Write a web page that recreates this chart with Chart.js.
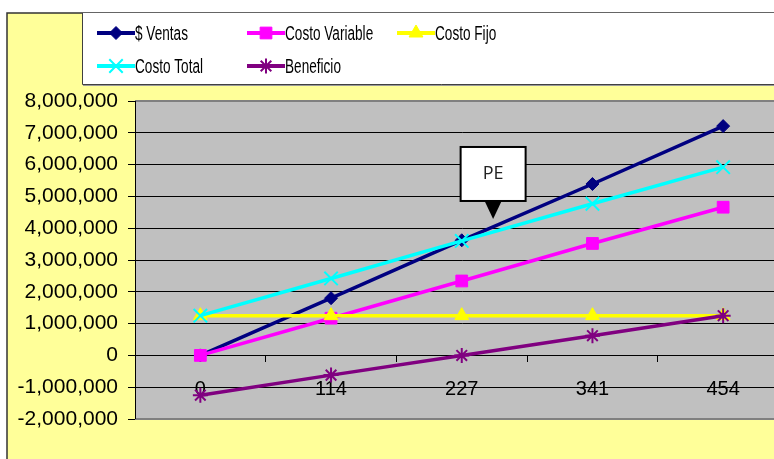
<!DOCTYPE html>
<html>
<head>
<meta charset="utf-8">
<script src="https://cdn.jsdelivr.net/npm/chart.js@4/dist/chart.umd.min.js"></script>
<style>
  html, body { margin: 0; padding: 0; overflow: hidden; background: #fff; }
  #wrap { position: relative; width: 800px; height: 459px; }
</style>
</head>
<body>
<div id="wrap"><canvas id="c" width="800" height="459"></canvas></div>
<script>
// Unidades vendidas y resultados del análisis de punto de equilibrio
const unidades      = ['0', '114', '227', '341', '454'];
const ventas        = [0, 1800000, 3620000, 5390000, 7210000];
const costoVariable = [0, 1170000, 2340000, 3520000, 4660000];
const costoFijo     = [1250000, 1250000, 1250000, 1250000, 1250000];
const costoTotal    = [1250000, 2420000, 3600000, 4770000, 5920000];
const beneficio     = [-1250000, -620000, 0, 620000, 1250000];
const ejeYMin = -2000000;
const ejeYMax = 8000000;
const ejeYPaso = 1000000;
const etiquetaPE = 'PE';

const FONT = '"Liberation Sans", Arial, Helvetica, sans-serif';

// Fondo del gráfico, cuadro de leyenda y área de trazado gris
const fondo = {
  id: 'fondo',
  beforeDraw(chart) {
    const { ctx, chartArea: a, width, height } = chart;
    ctx.save();
    ctx.fillStyle = '#ffffff';
    ctx.fillRect(0, 0, width, height);
    ctx.fillStyle = '#FFFF99';
    ctx.fillRect(7, 13, width - 7, height - 13);
    ctx.strokeStyle = '#333333';
    ctx.lineWidth = 1.5;
    ctx.beginPath();
    ctx.moveTo(7, height + 2);
    ctx.lineTo(7, 13);
    ctx.lineTo(width + 2, 13);
    ctx.stroke();
    // cuadro de la leyenda
    ctx.fillStyle = '#ffffff';
    ctx.fillRect(82, 13, width - 82, 71);
    ctx.strokeStyle = '#404040';
    ctx.lineWidth = 1;
    ctx.beginPath();
    ctx.moveTo(82.5, 13);
    ctx.lineTo(82.5, 84.5);
    ctx.lineTo(width + 2, 84.5);
    ctx.stroke();
    ctx.strokeStyle = '#9a9a9a';
    ctx.beginPath();
    ctx.moveTo(83, 85.5);
    ctx.lineTo(width + 2, 85.5);
    ctx.stroke();
    // área de trazado
    ctx.fillStyle = '#C0C0C0';
    ctx.fillRect(a.left, a.top, a.right - a.left, a.bottom - a.top);
    ctx.restore();
  },
  beforeDatasetsDraw(chart) {
    const { ctx, chartArea: a } = chart;
    ctx.save();
    ctx.strokeStyle = '#808080';
    ctx.lineWidth = 2;
    ctx.beginPath();
    ctx.moveTo(a.left, a.top);
    ctx.lineTo(a.right, a.top);
    ctx.moveTo(a.left, a.bottom);
    ctx.lineTo(a.right, a.bottom);
    ctx.stroke();
    ctx.strokeStyle = '#000000';
    ctx.lineWidth = 1;
    ctx.beginPath();
    ctx.moveTo(a.left + 0.5, a.top);
    ctx.lineTo(a.left + 0.5, a.bottom);
    ctx.stroke();
    ctx.restore();
  }
};

// Leyenda en dos filas dentro del cuadro blanco
const leyenda = {
  id: 'leyenda',
  afterDraw(chart) {
    const { ctx } = chart;
    const cols = [97, 247, 397];
    const rows = [33, 66];
    chart.data.datasets.forEach((ds, i) => {
      const x = cols[i % 3];
      const y = rows[Math.floor(i / 3)];
      ctx.save();
      ctx.strokeStyle = ds.borderColor;
      ctx.lineWidth = 4;
      ctx.beginPath();
      ctx.moveTo(x, y);
      ctx.lineTo(x + 38, y);
      ctx.stroke();
      ctx.fillStyle = ds.backgroundColor;
      ctx.strokeStyle = ds.borderColor;
      ctx.lineWidth = ds.pointBorderWidth;
      Chart.helpers.drawPoint(ctx, {
        pointStyle: ds.pointStyle,
        radius: ds.pointRadius,
        borderWidth: ds.pointBorderWidth,
        rotation: 0
      }, x + 19, y);
      ctx.restore();
      ctx.save();
      ctx.fillStyle = '#000000';
      ctx.font = '20px ' + FONT;
      ctx.textBaseline = 'alphabetic';
      ctx.translate(x + 38, y + 7);
      ctx.scale(0.68, 1);
      ctx.fillText(ds.label, 0, 0);
      ctx.restore();
    });
  }
};

// Llamada "PE" que señala el punto de equilibrio
const llamadaPE = {
  id: 'llamadaPE',
  afterDatasetsDraw(chart) {
    const { ctx, scales: { x, y } } = chart;
    const x2 = x.getPixelForValue(2), x3 = x.getPixelForValue(3);
    const tipX = x2 + 0.24 * (x3 - x2);
    const tipY = y.getPixelForValue(4290000);
    const w = 65, h = 54;
    const bx = tipX - w / 2, by = tipY - 18 - h;
    ctx.save();
    ctx.fillStyle = '#ffffff';
    ctx.fillRect(bx, by, w, h);
    ctx.strokeStyle = '#000000';
    ctx.lineWidth = 2;
    ctx.strokeRect(bx, by, w, h);
    ctx.fillStyle = '#000000';
    ctx.beginPath();
    ctx.moveTo(tipX - 8.5, by + h);
    ctx.lineTo(tipX + 8.5, by + h);
    ctx.lineTo(tipX, tipY);
    ctx.closePath();
    ctx.fill();
    ctx.fillStyle = '#222222';
    ctx.font = '18px "Open Sans", "Noto Sans", sans-serif';
    ctx.textAlign = 'center';
    ctx.textBaseline = 'middle';
    ctx.fillText(etiquetaPE, bx + w / 2, by + h / 2);
    ctx.restore();
  }
};

function serie(label, data, color, style, radius, bw, order) {
  return {
    label, data,
    borderColor: color,
    backgroundColor: color,
    pointBackgroundColor: color,
    pointBorderColor: color,
    pointStyle: style,
    pointRadius: radius,
    pointHoverRadius: radius,
    pointBorderWidth: bw,
    borderWidth: 3.5,
    tension: 0,
    fill: false,
    order
  };
}

new Chart(document.getElementById('c'), {
  type: 'line',
  data: {
    labels: unidades,
    datasets: [
      serie('$ Ventas', ventas, '#000080', 'rectRot', 6.5, 1, 5),
      serie('Costo Variable', costoVariable, '#FF00FF', 'rect', 8.3, 1, 4),
      serie('Costo Fijo', costoFijo, '#FFFF00', 'triangle', 8, 1, 3),
      serie('Costo Total', costoTotal, '#00FFFF', 'crossRot', 9.5, 2, 2),
      serie('Beneficio', beneficio, '#800080', 'star', 7.5, 2, 1)
    ]
  },
  options: {
    responsive: false,
    animation: false,
    devicePixelRatio: 1,
    layout: { padding: { left: 0, top: 101, right: 11.5, bottom: 40 } },
    plugins: {
      legend: { display: false },
      tooltip: { enabled: false }
    },
    scales: {
      x: {
        type: 'category',
        offset: true,
        position: { y: 0 },
        grid: {
          display: true,
          offset: true,
          drawOnChartArea: false,
          drawTicks: true,
          tickLength: 7,
          tickColor: '#000000',
          lineWidth: 1
        },
        border: { display: false },
        ticks: {
          color: '#000000',
          font: { family: FONT, size: 20 },
          padding: 15,
          maxRotation: 0,
          autoSkip: false
        }
      },
      y: {
        min: ejeYMin,
        max: ejeYMax,
        grid: {
          color: '#000000',
          lineWidth: 1,
          tickLength: 7,
          tickColor: '#000000'
        },
        border: { display: true, color: '#000000', width: 1 },
        ticks: {
          stepSize: ejeYPaso,
          color: '#000000',
          font: { family: FONT, size: 21 },
          padding: 10,
          callback: v => v.toLocaleString('en-US')
        },
        afterFit(scale) { scale.width = 135; }
      }
    }
  },
  plugins: [fondo, leyenda, llamadaPE]
});
</script>
</body>
</html>
